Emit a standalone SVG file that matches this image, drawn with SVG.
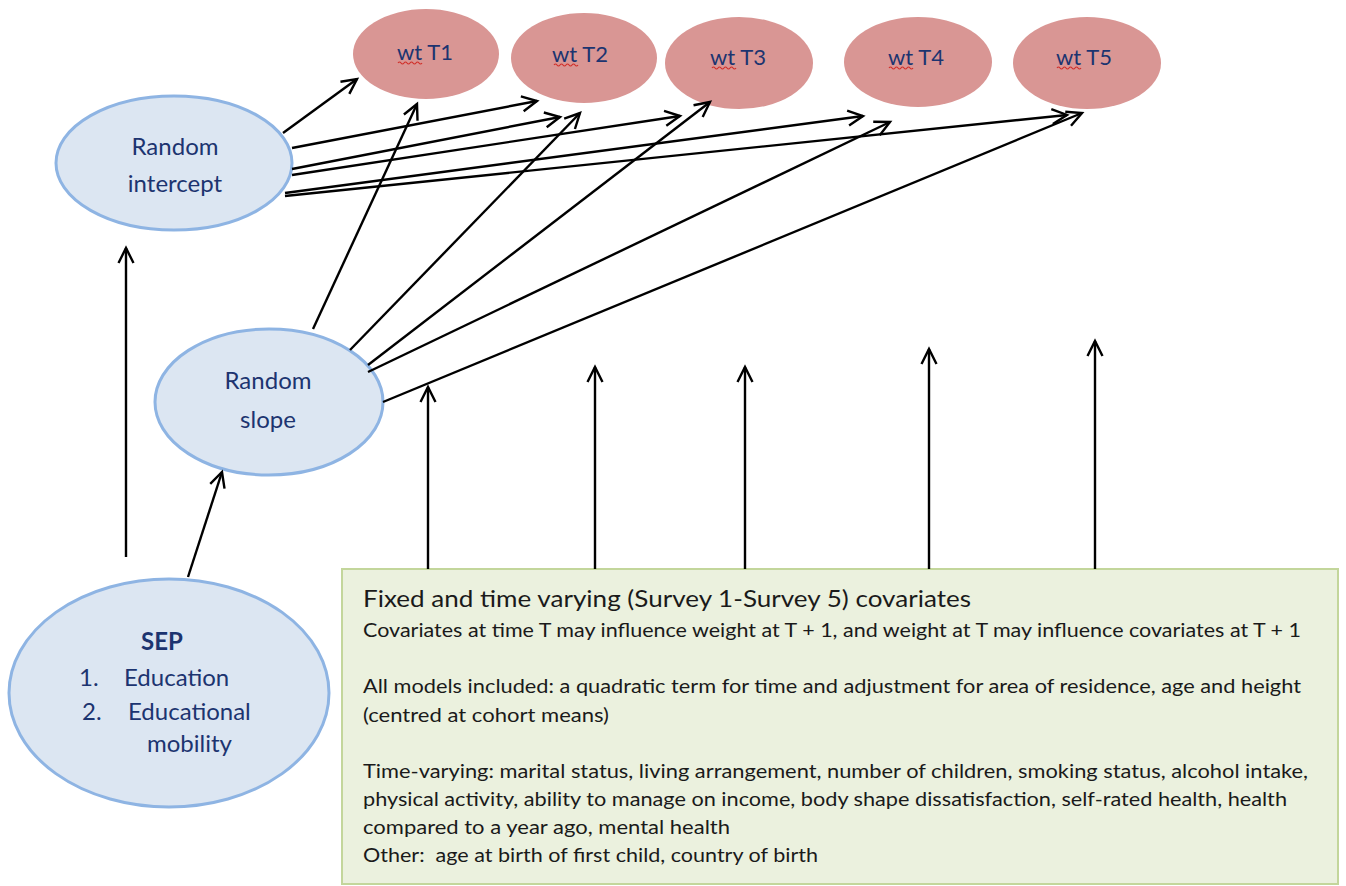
<svg xmlns="http://www.w3.org/2000/svg" width="1346" height="886" viewBox="0 0 1346 886">
<defs>
<style>
.pink{fill:#d99694;stroke:none}
.blue{fill:#dce6f2;stroke:#8eb4e3;stroke-width:3}
.nt{font-family:Lato,"Open Sans",sans-serif;fill:#1c3470}
.wt{font-size:22px;text-anchor:middle}
.lbl{font-size:24px}
.mid{text-anchor:middle}
.bx{font-family:Lato,"Liberation Sans",sans-serif;fill:#1a1a1a;font-size:19.5px}
.ttl{font-size:23.5px}
.sq{fill:none;stroke:#d0302a;stroke-width:1.2}
.con line{stroke:#000;stroke-width:2.4;fill:none;marker-end:url(#arr)}
</style>
<marker id="arr" viewBox="-17 -10 20 20" refX="0" refY="0" markerWidth="20" markerHeight="20" markerUnits="userSpaceOnUse" orient="auto">
<path d="M-15,-7.5 L0,0 L-15,7.5" fill="none" stroke="#000" stroke-width="2.4"/>
</marker>
</defs>
<rect width="1346" height="886" fill="#fff"/>

<g id="covariates">
<rect x="342" y="569" width="996" height="315" fill="#ebf1de" stroke="#c3d69b" stroke-width="2"/>
<text class="bx ttl" x="363" y="607" textLength="608" lengthAdjust="spacingAndGlyphs">Fixed and time varying (Survey 1-Survey 5) covariates</text>
<text class="bx" x="363" y="637" textLength="938" lengthAdjust="spacingAndGlyphs">Covariates at time T may influence weight at T + 1, and weight at T may influence covariates at T + 1</text>
<text class="bx" x="363" y="693" textLength="938" lengthAdjust="spacingAndGlyphs">All models included: a quadratic term for time and adjustment for area of residence, age and height</text>
<text class="bx" x="363" y="722" textLength="246" lengthAdjust="spacingAndGlyphs">(centred at cohort means)</text>
<text class="bx" x="363" y="778" textLength="945" lengthAdjust="spacingAndGlyphs">Time-varying: marital status, living arrangement, number of children, smoking status, alcohol intake,</text>
<text class="bx" x="363" y="806" textLength="924" lengthAdjust="spacingAndGlyphs">physical activity, ability to manage on income, body shape dissatisfaction, self-rated health, health</text>
<text class="bx" x="363" y="834" textLength="367" lengthAdjust="spacingAndGlyphs">compared to a year ago, mental health</text>
<text class="bx" x="363" y="862" textLength="455" lengthAdjust="spacingAndGlyphs" xml:space="preserve">Other:  age at birth of first child, country of birth</text>
</g>

<g id="wtT1">
<ellipse class="pink" cx="426" cy="54" rx="73" ry="45"/>
<text class="nt wt" x="425" y="60">wt T1</text>
<path class="sq" d="M398,63 q1.5,-2 3,0 t3,0 t3,0 t3,0 t3,0 t3,0 t3,0 t3,0"/>
</g>
<g id="wtT2">
<ellipse class="pink" cx="584" cy="58" rx="73" ry="45"/>
<text class="nt wt" x="580" y="62">wt T2</text>
<path class="sq" d="M554,65 q1.5,-2 3,0 t3,0 t3,0 t3,0 t3,0 t3,0 t3,0 t3,0"/>
</g>
<g id="wtT3">
<ellipse class="pink" cx="739" cy="63" rx="74" ry="46"/>
<text class="nt wt" x="738" y="65">wt T3</text>
<path class="sq" d="M712,68 q1.5,-2 3,0 t3,0 t3,0 t3,0 t3,0 t3,0 t3,0 t3,0"/>
</g>
<g id="wtT4">
<ellipse class="pink" cx="918" cy="62" rx="74" ry="45"/>
<text class="nt wt" x="916" y="65">wt T4</text>
<path class="sq" d="M889,68 q1.5,-2 3,0 t3,0 t3,0 t3,0 t3,0 t3,0 t3,0 t3,0"/>
</g>
<g id="wtT5">
<ellipse class="pink" cx="1087" cy="63" rx="74" ry="46"/>
<text class="nt wt" x="1084" y="65">wt T5</text>
<path class="sq" d="M1057,68 q1.5,-2 3,0 t3,0 t3,0 t3,0 t3,0 t3,0 t3,0 t3,0"/>
</g>

<g id="randomIntercept">
<ellipse class="blue" cx="174" cy="163" rx="118" ry="67"/>
<text class="nt lbl mid" x="175" y="155">Random</text>
<text class="nt lbl mid" x="175" y="192">intercept</text>
</g>
<g id="randomSlope">
<ellipse class="blue" cx="269" cy="402" rx="114" ry="73"/>
<text class="nt lbl mid" x="268" y="389">Random</text>
<text class="nt lbl mid" x="268" y="428">slope</text>
</g>
<g id="sep">
<ellipse class="blue" cx="169" cy="693" rx="160" ry="114"/>
<text class="nt lbl mid" x="162" y="650" font-weight="bold">SEP</text>
<text class="nt lbl" x="79" y="686">1.</text>
<text class="nt lbl" x="124" y="686">Education</text>
<text class="nt lbl" x="82" y="720">2.</text>
<text class="nt lbl" x="128" y="720">Educational</text>
<text class="nt lbl" x="147" y="752">mobility</text>
</g>

<g id="connectors" class="con">
<line x1="283" y1="133" x2="357" y2="79"/>
<line x1="292" y1="148" x2="537" y2="101"/>
<line x1="292" y1="169" x2="560" y2="117"/>
<line x1="292" y1="175" x2="680" y2="116"/>
<line x1="285" y1="193" x2="863" y2="116"/>
<line x1="285" y1="196" x2="1067" y2="115"/>
<line x1="313" y1="329" x2="417" y2="104"/>
<line x1="350" y1="350" x2="580" y2="113"/>
<line x1="368" y1="365" x2="710" y2="102"/>
<line x1="368" y1="372" x2="890" y2="122"/>
<line x1="383" y1="402" x2="1082" y2="113"/>
<line x1="126" y1="557" x2="126" y2="248"/>
<line x1="188" y1="577" x2="222" y2="472"/>
<line x1="428" y1="569" x2="428" y2="387"/>
<line x1="595" y1="569" x2="595" y2="367"/>
<line x1="745" y1="569" x2="745" y2="367"/>
<line x1="929" y1="569" x2="929" y2="349"/>
<line x1="1095" y1="569" x2="1095" y2="341"/>
</g>
</svg>
